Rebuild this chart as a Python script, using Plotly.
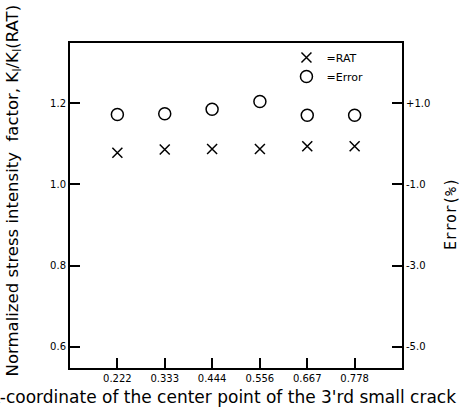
import plotly.graph_objects as go

x_pos = [0.222, 0.333, 0.444, 0.556, 0.667, 0.778]
x_labels = ["0.222", "0.333", "0.444", "0.556", "0.667", "0.778"]
rat = [1.078, 1.086, 1.087, 1.087, 1.094, 1.094]
error_pct = [0.72, 0.74, 0.85, 1.04, 0.70, 0.70]
left_ticks = [0.6, 0.8, 1.0, 1.2]
right_ticks = [-5.0, -3.0, -1.0, 1.0]
right_labels = ["-5.0", "-3.0", "-1.0", "+1.0"]

fnt = "DejaVu Sans"
fig = go.Figure()
fig.add_trace(go.Scatter(x=x_pos, y=rat, mode="markers", name="=RAT",
                         marker=dict(symbol="x-thin-open", size=10, color="black",
                                     line=dict(color="black", width=1.5))))
fig.add_trace(go.Scatter(x=x_pos, y=error_pct, mode="markers", name="=Error", yaxis="y2",
                         marker=dict(symbol="circle-open", size=12, color="black",
                                     line=dict(color="black", width=1.5))))

axis_common = dict(ticks="inside", ticklen=10, tickwidth=1.5, tickcolor="black",
                   showline=True, linecolor="black", linewidth=2,
                   showgrid=False, zeroline=False, automargin=False,
                   tickfont=dict(family=fnt, size=10, color="black"))

fig.update_layout(
    width=462, height=410,
    margin=dict(l=70, r=60, t=43, b=42, autoexpand=False),
    paper_bgcolor="white", plot_bgcolor="white",
    showlegend=True,
    legend=dict(x=0.652, y=1.0, xanchor="left", yanchor="top", bgcolor="rgba(0,0,0,0)",
                font=dict(family=fnt, size=11, color="black"), itemwidth=30,
                tracegroupgap=0),
    xaxis=dict(range=[0.111, 0.889], tickvals=x_pos, ticktext=x_labels, mirror=True,
               **axis_common),
    yaxis=dict(range=[0.548, 1.348], tickvals=left_ticks,
               ticktext=["0.6", "0.8", "1.0", "1.2"], **axis_common),
    yaxis2=dict(range=[-5.52, 2.48], overlaying="y", side="right",
                tickvals=right_ticks, ticktext=right_labels, **axis_common),
    annotations=[
        dict(text="Normalized stress intensity  factor, K<sub>I</sub>/K<sub>I</sub>(RAT)",
             xref="paper", yref="paper", x=-0.17, y=0.545, textangle=-90,
             showarrow=False, font=dict(family=fnt, size=16.5, color="black"),
             xanchor="center", yanchor="middle"),
        dict(text="Error(%)", xref="paper", yref="paper", x=1.148, y=0.474, textangle=-90,
             showarrow=False, font=dict(family="DejaVu Sans Mono", size=15, color="black"),
             xanchor="center", yanchor="middle"),
        dict(text="X-coordinate of the center point of the 3'rd small crack",
             xref="paper", yref="paper", x=1.169, y=-0.088, xanchor="right", yanchor="middle",
             showarrow=False, font=dict(family=fnt, size=17, color="black")),
    ],
)
fig.write_html("out.html", config={"displayModeBar": False},
               post_script="document.body.style.margin='0px';")
